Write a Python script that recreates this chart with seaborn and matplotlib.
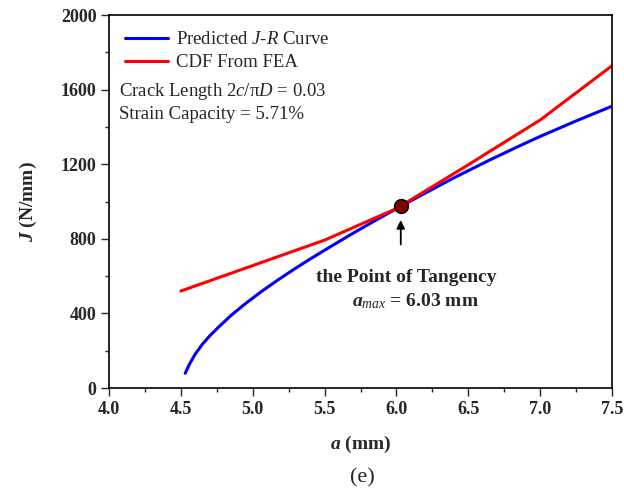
import matplotlib
matplotlib.use("Agg")
import matplotlib.pyplot as plt
from matplotlib.ticker import MultipleLocator
import seaborn as sns
import pandas as pd

# Predicted J-R resistance curve (crack depth a in mm, J in N/mm)
jr_a = [4.53, 4.56, 4.60, 4.65, 4.70, 4.76, 4.85, 4.95, 5.06, 5.18, 5.30, 5.40,
        5.55, 5.70, 5.85, 5.95, 6.03, 6.2, 6.4, 6.65, 6.85, 7.0, 7.25, 7.5]
jr_j = [79, 128, 182, 235, 279, 325, 390, 453, 517, 582, 643, 692,
        762, 831, 897, 940, 974, 1045, 1127, 1223, 1296, 1349, 1432, 1511]

# Crack driving force from FEA
fea_a = [4.5, 5.5, 6.0, 6.5, 7.0, 7.5]
fea_j = [520, 793, 962, 1197, 1437, 1728]

# Tangency point
a_max = 6.03
j_tan = 974

sns.set_style("ticks")
plt.rcParams["font.family"] = ["Liberation Serif", "DejaVu Serif"]
plt.rcParams["mathtext.fontset"] = "custom"
plt.rcParams["mathtext.rm"] = "Liberation Serif"
plt.rcParams["mathtext.it"] = "Liberation Serif:italic"
plt.rcParams["mathtext.bf"] = "Liberation Serif:bold"
plt.rcParams["mathtext.bfit"] = "Liberation Serif:bold:italic"

fig = plt.figure(figsize=(6.24, 4.97), dpi=100)
ax = fig.add_axes([0.1747, 0.2193, 0.8061, 0.7505])

df_jr = pd.DataFrame({"a": jr_a, "J": jr_j})
df_fea = pd.DataFrame({"a": fea_a, "J": fea_j})
sns.lineplot(data=df_jr, x="a", y="J", ax=ax, color="#0000ff", lw=2.2,
             label=r"Predicted $\mathit{J}$-$\mathit{R}$ Curve", sort=False)
sns.lineplot(data=df_fea, x="a", y="J", ax=ax, color="#ff0000", lw=2.2,
             label="CDF From FEA", sort=False)

ax.plot([a_max], [j_tan], "o", color="#7f0000", mec="black", mew=1.0, ms=10, zorder=5)
ax.annotate("", xy=(a_max, 915), xytext=(a_max, 755),
            arrowprops=dict(arrowstyle="-|>", color="black", lw=1.3,
                            mutation_scale=12))
ax.text(6.07, 595, "the Point of Tangency", ha="center", va="center",
        fontsize=14, fontweight="bold")
ax.text(6.13, 468, r"$\mathbfit{a}_{\mathit{max}}$ = 6.03 mm", ha="center", va="center",
        fontsize=14, fontweight="bold")

ax.set_xlim(4.0, 7.5)
ax.set_ylim(0, 2000)
ax.xaxis.set_major_locator(MultipleLocator(0.5))
ax.xaxis.set_minor_locator(MultipleLocator(0.25))
ax.yaxis.set_major_locator(MultipleLocator(400))
ax.yaxis.set_minor_locator(MultipleLocator(200))
ax.tick_params(which="major", direction="out", length=6, width=1.0,
               labelsize=13, pad=3)
ax.tick_params(which="minor", direction="out", length=3, width=1.0)
ax.set_xticklabels([f"{v:.1f}" for v in ax.get_xticks()], fontweight="bold")
ax.set_yticklabels([f"{int(v)}" for v in ax.get_yticks()], fontweight="bold")
for s in ax.spines.values():
    s.set_visible(True)
    s.set_linewidth(1.2)
    s.set_color("black")

ax.set_xlabel(r"$\mathbfit{a}$ (mm)", fontsize=14, fontweight="bold", labelpad=12)
ax.set_ylabel(r"$\mathbfit{J}$ (N/mm)", fontsize=14, fontweight="bold", labelpad=16)

leg = ax.legend(loc="upper left", frameon=False, fontsize=13.5, handlelength=2.3,
                handletextpad=0.4, borderaxespad=0.45, labelspacing=0.33,
                bbox_to_anchor=(0.0, 1.0))
ax.text(0.02, 0.795, r"Crack Length 2$\mathit{c}$/π$\mathit{D}$ = 0.03",
        transform=ax.transAxes, fontsize=13.5, va="center")
ax.text(0.02, 0.733, "Strain Capacity = 5.71%", transform=ax.transAxes,
        fontsize=13.5, va="center")

fig.text(0.58, 0.038, "(e)", ha="center", va="center", fontsize=16)

fig.savefig("out.png", dpi=100)
